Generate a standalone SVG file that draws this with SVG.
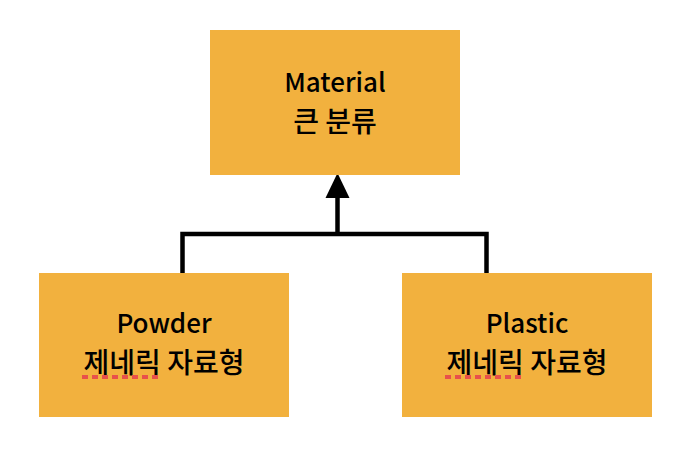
<svg xmlns="http://www.w3.org/2000/svg" width="686" height="456" viewBox="0 0 686 456">
<style>
.box{fill:#F2B13E}
.t{font-family:"Noto Sans CJK KR","Noto Sans",sans-serif;font-size:26px;font-weight:500;fill:#000;text-anchor:middle}
.k{font-size:28px}
.conn{fill:none;stroke:#000;stroke-width:4.5}
.squig{stroke:#E8514A;stroke-width:4;stroke-dasharray:6 4}
</style>
<rect width="686" height="456" fill="#fff"/>
<g id="connectors">
<path class="conn" d="M182.5 273 V234 H486.5 V273"/>
<path class="conn" d="M337.5 234 V198"/>
<path d="M337.5 173 L349.5 198 L325.5 198 Z" fill="#000"/>
</g>
<g id="material">
<rect class="box" x="210" y="30" width="250" height="145"/>
<text class="t" x="335" y="92">Material</text>
<text class="t k" x="335" y="132">큰 분류</text>
</g>
<g id="powder">
<rect class="box" x="39" y="273" width="250" height="144"/>
<text class="t" x="164" y="333">Powder</text>
<text class="t k" x="164" y="373">제네릭 자료형</text>
<line class="squig" x1="82" y1="377" x2="160" y2="377"/>
</g>
<g id="plastic">
<rect class="box" x="402" y="273" width="250" height="144"/>
<text class="t" x="527" y="333">Plastic</text>
<text class="t k" x="527" y="373">제네릭 자료형</text>
<line class="squig" x1="445" y1="377" x2="523" y2="377"/>
</g>
</svg>
